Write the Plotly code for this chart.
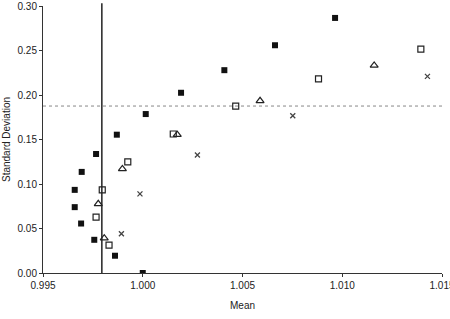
import plotly.graph_objects as go

# Filled squares
fs_x = [0.99766, 0.99870, 1.00015, 0.99694, 0.99659, 0.99659, 0.99691, 0.99757, 0.99861, 1.00000,
        1.00192, 1.00409, 1.00663, 1.00964]
fs_y = [0.1337, 0.1554, 0.1786, 0.1136, 0.0934, 0.0740, 0.0556, 0.0373, 0.0194, 0.0,
        0.2025, 0.2279, 0.2559, 0.2866]
# Open squares
os_x = [0.99797, 0.99766, 0.99831, 0.99925, 1.00153, 1.00466, 1.00881, 1.01394]
os_y = [0.0934, 0.0628, 0.0314, 0.1248, 0.1562, 0.1876, 0.2182, 0.2515]
# Open triangles
tr_x = [0.99898, 0.99777, 0.99807, 1.00173, 1.00588, 1.01160]
tr_y = [0.1169, 0.0777, 0.0392, 0.1554, 0.1935, 0.2332]
# Crosses
cx_x = [0.99986, 0.99893, 1.00274, 1.00752, 1.01427]
cx_y = [0.0889, 0.0441, 0.1326, 0.1767, 0.2209]

vline_x = 0.99795
hline_y = 0.1876

x_ticks = [0.995, 1.000, 1.005, 1.010, 1.015]
x_labels = ["0.995", "1.000", "1.005", "1.010", "1.015"]
y_ticks = [0.00, 0.05, 0.10, 0.15, 0.20, 0.25, 0.30]
y_labels = ["0.00", "0.05", "0.10", "0.15", "0.20", "0.25", "0.30"]

fig = go.Figure()
fig.add_trace(go.Scatter(x=fs_x, y=fs_y, mode="markers",
                         marker=dict(symbol="square", size=6, color="#111", line=dict(width=0))))
fig.add_trace(go.Scatter(x=os_x, y=os_y, mode="markers",
                         marker=dict(symbol="square-open", size=6, color="#222", line=dict(width=1.2))))
fig.add_trace(go.Scatter(x=tr_x, y=tr_y, mode="markers",
                         marker=dict(symbol="triangle-up-open", size=7, color="#222", line=dict(width=1.2))))
fig.add_trace(go.Scatter(x=cx_x, y=cx_y, mode="markers",
                         marker=dict(symbol="x-thin", size=5, color="#222", line=dict(width=1.3))))

fig.add_shape(type="line", xref="x", yref="paper", x0=vline_x, x1=vline_x, y0=0, y1=1.01,
              line=dict(color="#222", width=1.5))
fig.add_shape(type="line", xref="paper", yref="y", x0=0, x1=1.005, y0=hline_y, y1=hline_y,
              line=dict(color="#888", width=1, dash="dot"))

font = dict(family="Liberation Sans, Arial, sans-serif", size=10, color="#222")
fig.update_layout(
    width=450, height=319,
    margin=dict(l=43, r=8, t=6, b=46),
    paper_bgcolor="white", plot_bgcolor="white",
    showlegend=False,
    font=font,
    xaxis=dict(range=[0.995, 1.015], tickvals=x_ticks, ticktext=x_labels,
               showgrid=False, zeroline=False, showline=True, linecolor="#333", linewidth=1,
               ticks="outside", ticklen=3, tickcolor="#333", ticklabeloverflow="allow",
               automargin=False,
               title=dict(text="Mean", font=font, standoff=11)),
    yaxis=dict(range=[0, 0.30], tickvals=y_ticks, ticktext=y_labels,
               showgrid=False, zeroline=False, showline=True, linecolor="#333", linewidth=1,
               ticks="outside", ticklen=3, tickcolor="#333", automargin=False,
               title=dict(text="Standard Deviation", font=font, standoff=5)),
)

fig.write_html("out.html")
